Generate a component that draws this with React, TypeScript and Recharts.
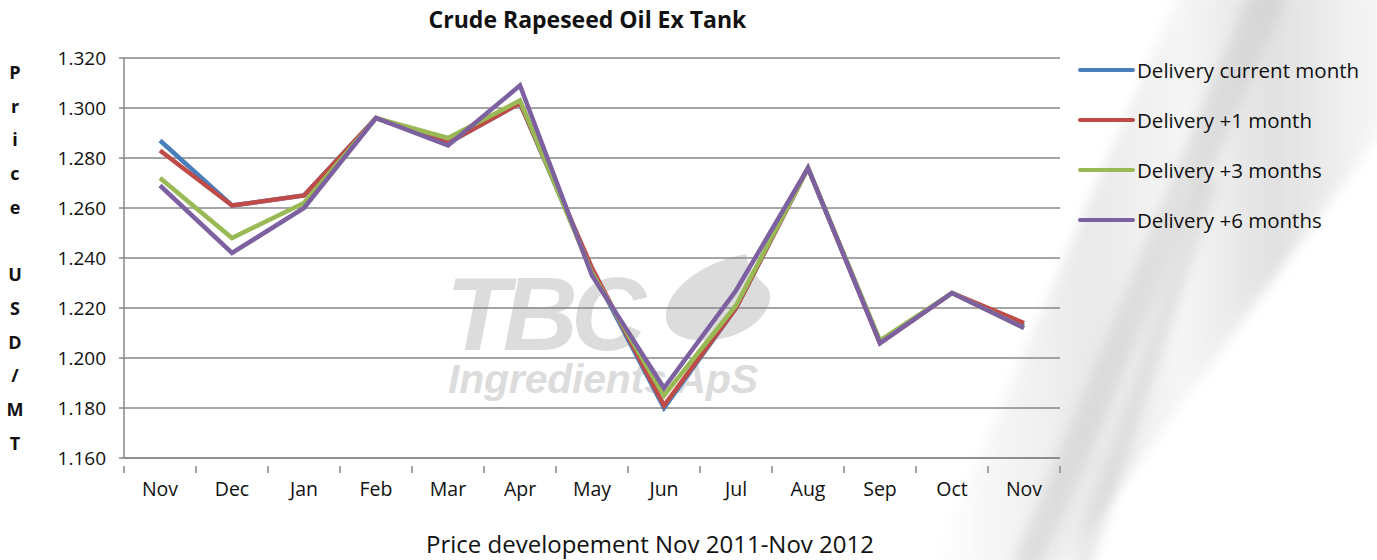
import React from "react";
import { LineChart, Line, XAxis, YAxis, CartesianGrid } from "recharts";

const MONTHS = ["Nov", "Dec", "Jan", "Feb", "Mar", "Apr", "May", "Jun", "Jul", "Aug", "Sep", "Oct", "Nov"];
const CURRENT = [1287, 1261, 1265, 1296, 1286, 1302, 1235, 1180, 1220, 1276, 1206, 1226, 1213];
const PLUS_1 = [1283, 1261, 1265, 1296, 1286, 1302, 1236, 1181, 1220, 1276, 1206, 1226, 1214];
const PLUS_3 = [1272, 1248, 1262, 1296, 1288, 1303, 1234, 1185, 1221, 1276, 1207, 1226, 1212];
const PLUS_6 = [1269, 1242, 1260, 1296, 1285, 1309, 1233, 1188, 1227, 1276, 1206, 1226, 1212];
const Y_TICKS = [1160, 1180, 1200, 1220, 1240, 1260, 1280, 1300, 1320];

const SERIES = [
  { key: "current", name: "Delivery current month", color: "#4a7ebb" },
  { key: "plus1", name: "Delivery +1 month", color: "#be4b48" },
  { key: "plus3", name: "Delivery +3 months", color: "#98b954" },
  { key: "plus6", name: "Delivery +6 months", color: "#7d60a0" },
];

const data = MONTHS.map((month, i) => ({
  idx: i,
  month,
  current: CURRENT[i],
  plus1: PLUS_1[i],
  plus3: PLUS_3[i],
  plus6: PLUS_6[i],
}));

const FONT = "'Open Sans', 'Noto Sans', sans-serif";
const AXIS_GRAY = "#878787";
// half a category slot, used as the axis padding so points sit in the middle of each slot
const HALF_SLOT = 36;

function XTick(props: any) {
  const { x, y, payload, index, visibleTicksCount } = props;
  return (
    <g>
      <line x1={x - HALF_SLOT} x2={x - HALF_SLOT} y1={y} y2={y + 7} stroke={AXIS_GRAY} strokeWidth={1.5} />
      {index === visibleTicksCount - 1 && (
        <line x1={x + HALF_SLOT} x2={x + HALF_SLOT} y1={y} y2={y + 7} stroke={AXIS_GRAY} strokeWidth={1.5} />
      )}
      <text x={x} y={y + 30} textAnchor="middle" fontSize={19.5} fontFamily={FONT} fill="#111">
        {MONTHS[payload.value]}
      </text>
    </g>
  );
}

export default function App() {
  const yLabel = "Price USD/MT".split("");
  return (
    <div style={{ position: "absolute", left: 0, top: 0, width: 1377, height: 560, background: "#fff", overflow: "hidden" }}>
      <svg width={1377} height={560} style={{ position: "absolute", left: 0, top: 0 }}>
        <defs>
          <filter id="blur" x="-20%" y="-20%" width="140%" height="140%">
            <feGaussianBlur stdDeviation="6" />
          </filter>
          <linearGradient id="sw" x1="0" y1="0" x2="1" y2="0">
            <stop offset="0" stopColor="#fff" />
            <stop offset="0.35" stopColor="#d8d8d8" />
            <stop offset="0.55" stopColor="#efefef" />
            <stop offset="0.75" stopColor="#c9c9c9" />
            <stop offset="1" stopColor="#f4f4f4" />
          </linearGradient>
        </defs>
        <path d="M1180,-10 L1390,-10 L1390,120 L1060,570 L930,570 Z" fill="url(#sw)" opacity={0.55} filter="url(#blur)" />
        <path d="M1250,-10 L1290,-10 L1040,570 L1010,570 Z" fill="#c8c8c8" opacity={0.45} filter="url(#blur)" />
        <path d="M1200,180 L1220,180 L1090,570 L1070,570 Z" fill="#c0c0c0" opacity={0.35} filter="url(#blur)" />
        <text x={446} y={350} fontSize={104} fontWeight="bold" fontStyle="italic" fontFamily="'Liberation Sans', Arial, sans-serif" fill="#dcdcdc" textLength={200}>
          TBC
        </text>
        <path d="M746,254 C700,262 664,292 666,318 C668,338 692,342 712,340 C758,336 780,300 766,286 C756,276 748,268 746,254 Z" fill="#dcdcdc" />
        <text x={448} y={393} fontSize={41} fontWeight="bold" fontStyle="italic" fontFamily="'Liberation Sans', Arial, sans-serif" fill="#dcdcdc" textLength={310}>
          Ingredients ApS
        </text>
      </svg>

      <div style={{ position: "absolute", left: 0, top: 3, width: 1175, textAlign: "center", fontFamily: FONT, fontWeight: "bold", fontSize: 23, color: "#111" }}>
        Crude Rapeseed Oil Ex Tank
      </div>

      <div style={{ position: "absolute", left: 4, top: 58, width: 22, fontFamily: FONT, fontWeight: "bold", fontSize: 18, textAlign: "center", color: "#111" }}>
        {yLabel.map((c, i) => (
          <div key={i} style={{ height: 33.7, lineHeight: "28px" }}>
            {c === " " ? "\u00a0" : c}
          </div>
        ))}
      </div>

      <div style={{ position: "absolute", left: 0, top: 527, width: 1300, textAlign: "center", fontFamily: FONT, fontSize: 24, color: "#111" }}>
        Price developement Nov 2011-Nov 2012
      </div>

      <div style={{ position: "absolute", left: 1078, top: 45, fontFamily: FONT, fontSize: 20.5, color: "#111" }}>
        {SERIES.map((s) => (
          <div key={s.key} style={{ display: "flex", alignItems: "center", height: 50 }}>
            <div style={{ width: 57, height: 4.5, borderRadius: 2.5, background: s.color, marginRight: 2 }} />
            <span>{s.name}</span>
          </div>
        ))}
      </div>

      <div style={{ position: "absolute", left: 0, top: 0 }}>
        <LineChart
          width={1377}
          height={560}
          data={data}
          margin={{ top: 58, right: 317, bottom: 72, left: 10 }}
        >
          <CartesianGrid vertical={false} stroke={AXIS_GRAY} strokeWidth={1.5} />
          <XAxis
            dataKey="idx"
            type="number"
            domain={[0, MONTHS.length - 1]}
            ticks={data.map((d) => d.idx)}
            padding={{ left: HALF_SLOT, right: HALF_SLOT }}
            height={30}
            axisLine={{ stroke: AXIS_GRAY, strokeWidth: 1.5 }}
            tickLine={false}
            tick={<XTick />}
            interval={0}
          />
          <YAxis
            width={114}
            domain={[1160, 1320]}
            ticks={Y_TICKS}
            allowDataOverflow
            tickFormatter={(v: number) => (v / 1000).toFixed(3)}
            axisLine={{ stroke: AXIS_GRAY, strokeWidth: 1.5 }}
            tickLine={{ stroke: AXIS_GRAY, strokeWidth: 1.5 }}
            tickSize={5}
            tickMargin={13}
            tick={{ fontSize: 19, fontFamily: FONT, fill: "#111" }}
          />
          {SERIES.map((s) => (
            <Line
              key={s.key}
              type="linear"
              dataKey={s.key}
              name={s.name}
              stroke={s.color}
              strokeWidth={4.5}
              dot={false}
              activeDot={false}
              isAnimationActive={false}
            />
          ))}
        </LineChart>
      </div>
    </div>
  );
}
